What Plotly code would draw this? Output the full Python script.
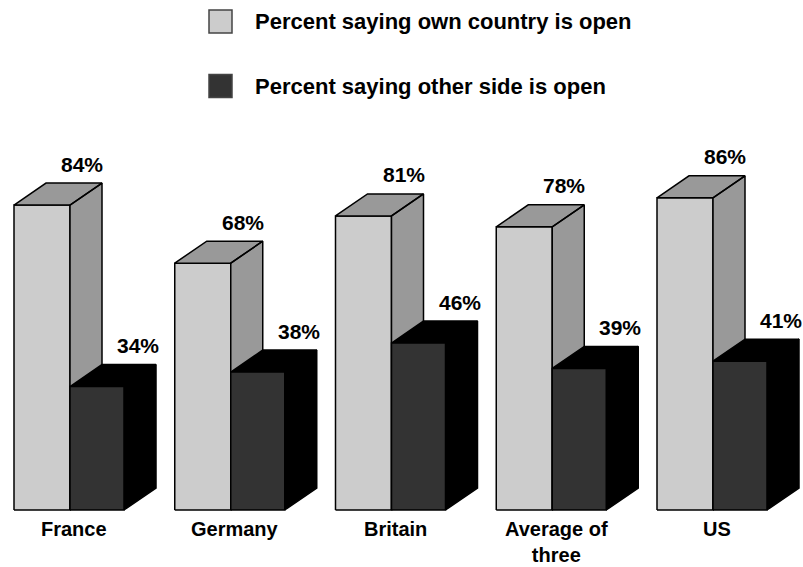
import plotly.graph_objects as go

categories = ["France", "Germany", "Britain", "Average of<br>three", "US"]
own_open = [84, 68, 81, 78, 86]
other_open = [34, 38, 46, 39, 41]
series_names = ["Percent saying own country is open", "Percent saying other side is open"]

# geometry (in axis units)
PX_X = 160.75          # pixels per group
PX_Y = 3.63            # pixels per percent
W_LIGHT = 56 / PX_X
W_DARK = 54 / PX_X
DX = 32 / PX_X
DY = 22 / PX_Y

def faces(x0, w, h):
    front = [(x0, 0), (x0 + w, 0), (x0 + w, h), (x0, h)]
    top = [(x0, h), (x0 + w, h), (x0 + w + DX, h + DY), (x0 + DX, h + DY)]
    side = [(x0 + w, 0), (x0 + w + DX, DY), (x0 + w + DX, h + DY), (x0 + w, h)]
    return front, top, side

def poly_trace(polys, color):
    xs, ys = [], []
    for p in polys:
        xs += [q[0] for q in p] + [p[0][0], None]
        ys += [q[1] for q in p] + [p[0][1], None]
    return go.Scatter(x=xs, y=ys, mode="lines", fill="toself", fillcolor=color,
                      line=dict(color="#000000", width=1.5), hoverinfo="skip",
                      showlegend=False)

lf, lts, df, dts = [], [], [], []
for i, (a, b) in enumerate(zip(own_open, other_open)):
    f, t, s = faces(i, W_LIGHT, a)
    lf.append(f); lts += [t, s]
    f, t, s = faces(i + W_LIGHT, W_DARK, b)
    df.append(f); dts += [t, s]

fig = go.Figure()
fig.add_trace(poly_trace(lf, "#cccccc"))
fig.add_trace(poly_trace(lts, "#999999"))
fig.add_trace(poly_trace(dts, "#000000"))
fig.add_trace(poly_trace(df, "#333333"))

FONT = "Liberation Sans"
annotations = []
LABEL_DX = 68 / PX_X
LABEL_DY = DY + 19 / PX_Y
for i, (a, b) in enumerate(zip(own_open, other_open)):
    annotations.append(dict(x=i + LABEL_DX, y=a + LABEL_DY, text=f"<b>{a}%</b>",
                            showarrow=False, xanchor="center", yanchor="middle",
                            font=dict(size=21, color="#000000", family=FONT)))
    annotations.append(dict(x=i + W_LIGHT + LABEL_DX, y=b + LABEL_DY, text=f"<b>{b}%</b>",
                            showarrow=False, xanchor="center", yanchor="middle",
                            font=dict(size=21, color="#000000", family=FONT)))
for i, c in enumerate(categories):
    annotations.append(dict(x=i + 60 / PX_X, y=-20 / PX_Y, text=f"<b>{c}</b>",
                            showarrow=False, xanchor="center", yanchor="top",
                            yshift=14,
                            font=dict(size=20, color="#000000", family=FONT)))

# legend (manual)
H = 567.0
legend_colors = ["#cccccc", "#333333"]
legend_y = [21.5, 86]
shapes = []
for name, col, yc in zip(series_names, legend_colors, legend_y):
    shapes.append(dict(type="rect", xref="paper", yref="paper",
                       x0=209 / 803, x1=232 / 803,
                       y0=1 - (yc + 11.5) / H, y1=1 - (yc - 11.5) / H,
                       fillcolor=col, line=dict(color="#444444", width=1.5)))
    annotations.append(dict(xref="paper", yref="paper", x=253 / 803, y=1 - yc / H,
                            text=f"<b>{name}</b>", showarrow=False,
                            xanchor="left", yanchor="middle",
                            font=dict(size=22, color="#000000", family=FONT)))

fig.update_layout(
    width=803, height=567,
    margin=dict(l=0, r=0, t=0, b=0),
    paper_bgcolor="#ffffff", plot_bgcolor="#ffffff",
    xaxis=dict(range=[-14 / PX_X, (803 - 14) / PX_X], visible=False, fixedrange=True),
    yaxis=dict(range=[-(567 - 510) / PX_Y, 510 / PX_Y], visible=False, fixedrange=True),
    annotations=annotations, shapes=shapes, showlegend=False,
)
fig.write_html("out.html")
